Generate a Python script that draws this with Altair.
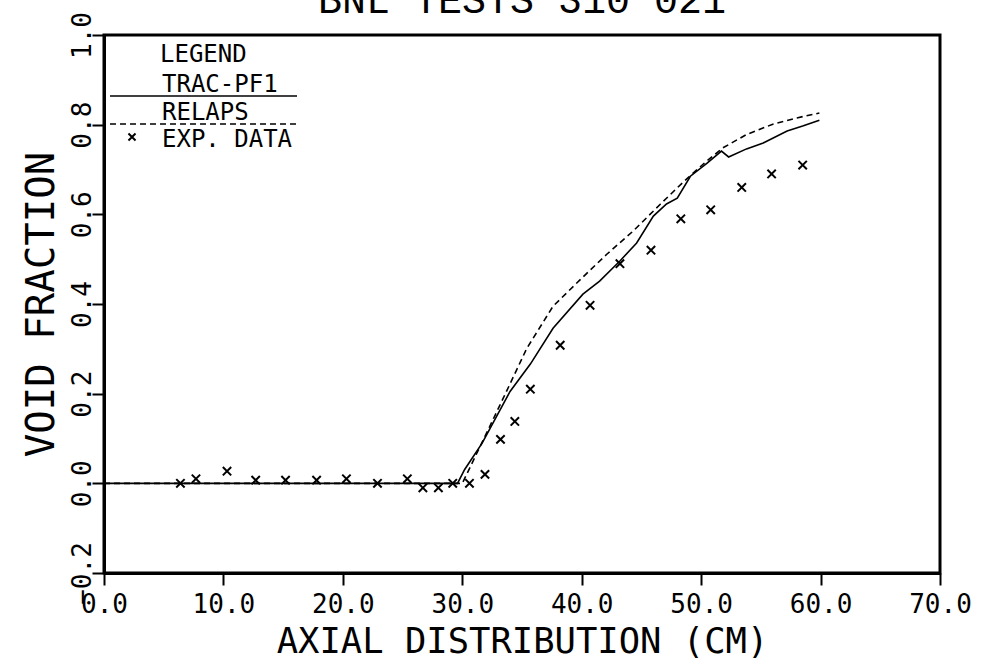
import altair as alt
import pandas as pd

# TRAC-PF1 (solid)
trac_x = [0.0, 29.6, 30.2, 31.65, 34.0, 35.7, 37.6, 40.1, 41.5, 43.2, 44.6, 46.0, 47.1, 48.0,
          49.1, 50.5, 51.7, 52.3, 53.8, 55.2, 57.2, 58.5, 59.9]
trac_y = [0.0, 0.0, 0.031, 0.089, 0.205, 0.266, 0.346, 0.422, 0.451, 0.496, 0.536, 0.596, 0.623, 0.636,
          0.685, 0.714, 0.741, 0.728, 0.746, 0.759, 0.786, 0.797, 0.810]

# RELAP5 (dashed)
relap_x = [0.0, 30.0, 30.6, 32.1, 33.7, 35.4, 37.6, 39.9, 42.1, 44.3, 46.6, 48.5, 50.3, 51.8, 53.8, 56.0, 58.0, 59.9]
relap_y = [0.0, 0.0, 0.033, 0.116, 0.205, 0.301, 0.395, 0.455, 0.511, 0.5625, 0.623, 0.672, 0.715, 0.748, 0.778,
           0.801, 0.815, 0.826]

# Experimental data
exp_x = [6.4, 7.7, 10.3, 12.7, 15.2, 17.8, 20.3, 22.9, 25.4, 26.7, 28.0, 29.2, 30.6, 31.9, 33.2, 34.4,
         35.7, 38.2, 40.7, 43.2, 45.8, 48.3, 50.8, 53.4, 55.9, 58.5]
exp_y = [0.0, 0.01, 0.027, 0.007, 0.007, 0.007, 0.01, 0.0, 0.01, -0.01, -0.01, 0.0, 0.0, 0.02, 0.098, 0.138,
         0.21, 0.308, 0.397, 0.49, 0.52, 0.59, 0.61, 0.66, 0.69, 0.71]

x_ticks = [0, 10, 20, 30, 40, 50, 60, 70]
y_ticks = [-0.2, 0.0, 0.2, 0.4, 0.6, 0.8, 1.0]

FONT = "DejaVu Sans Mono"
XMARK = "M-1,-1L1,1M1,-1L-1,1"

trac = pd.DataFrame({"x": trac_x, "y": trac_y})
relap = pd.DataFrame({"x": relap_x, "y": relap_y})
exp = pd.DataFrame({"x": exp_x, "y": exp_y})
one = pd.DataFrame({"a": [0]})

xenc = alt.X("x:Q", scale=alt.Scale(domain=[0, 70], nice=False, zero=False),
             axis=alt.Axis(values=x_ticks, format=".1f", title="AXIAL DISTRIBUTION (CM)",
                           labelFont=FONT, labelFontSize=26, labelColor="black", labelPadding=6,
                           labelFlush=False, labelOverlap=False,
                           tickSize=12, tickWidth=2, tickColor="black",
                           domainColor="black", domainWidth=3, grid=False,
                           titleFont=FONT, titleFontSize=35.5, titleFontWeight="normal",
                           titleColor="black", titlePadding=7))
yenc = alt.Y("y:Q", scale=alt.Scale(domain=[-0.2, 1.0], nice=False, zero=False),
             axis=alt.Axis(values=y_ticks, format=".1f", title="VOID FRACTION",
                           labelFont=FONT, labelFontSize=26, labelColor="black", labelPadding=2,
                           labelAngle=270, labelAlign="center", labelBaseline="alphabetic",
                           labelFlush=False, labelOverlap=False,
                           tickSize=12, tickWidth=2, tickColor="black",
                           domainColor="black", domainWidth=3, grid=False,
                           titleFont=FONT, titleFontSize=39, titleFontWeight="normal",
                           titleColor="black", titlePadding=8))

solid = alt.Chart(trac).mark_line(color="black", strokeWidth=1.6).encode(x=xenc, y=yenc)
dashed = alt.Chart(relap).mark_line(color="black", strokeWidth=1.6, strokeDash=[6, 4]).encode(x="x:Q", y="y:Q")
pts = alt.Chart(exp).mark_point(shape=XMARK, size=70, color="black", strokeWidth=2, filled=False,
                                opacity=1).encode(x="x:Q", y="y:Q")

def label(txt, x, y, size=24, font=FONT, align="left"):
    return alt.Chart(one).mark_text(text=txt, font=font, fontSize=size, align=align,
                                    baseline="alphabetic", color="black").encode(
        x=alt.value(x), y=alt.value(y))

leg = [
    label("LEGEND", 56, 27),
    label("TRAC-PF1", 58, 57),
    alt.Chart(one).mark_rule(color="black", strokeWidth=1.6).encode(
        x=alt.value(6), x2=alt.value(193), y=alt.value(61)),
    label("RELAPS", 58, 85),
    alt.Chart(one).mark_rule(color="black", strokeWidth=1.6, strokeDash=[6, 4]).encode(
        x=alt.value(6), x2=alt.value(193), y=alt.value(89)),
    alt.Chart(one).mark_point(shape=XMARK, size=50, color="black", strokeWidth=2, filled=False,
                              opacity=1).encode(x=alt.value(28), y=alt.value(102)),
    label("EXP. DATA", 58, 112),
]

title = label("BNL TESTS 310 021", 418, -22, size=40, font="Liberation Mono", align="center")

chart = alt.layer(solid, dashed, pts, *leg, title).properties(
    width=836, height=538,
    autosize=alt.AutoSizeParams(type="none"),
    padding={"left": 104, "top": 35, "right": 48, "bottom": 97},
).configure(background="white").configure_view(stroke="black", strokeWidth=3)

chart.save("out.html", embed_options={"renderer": "svg", "actions": False})
